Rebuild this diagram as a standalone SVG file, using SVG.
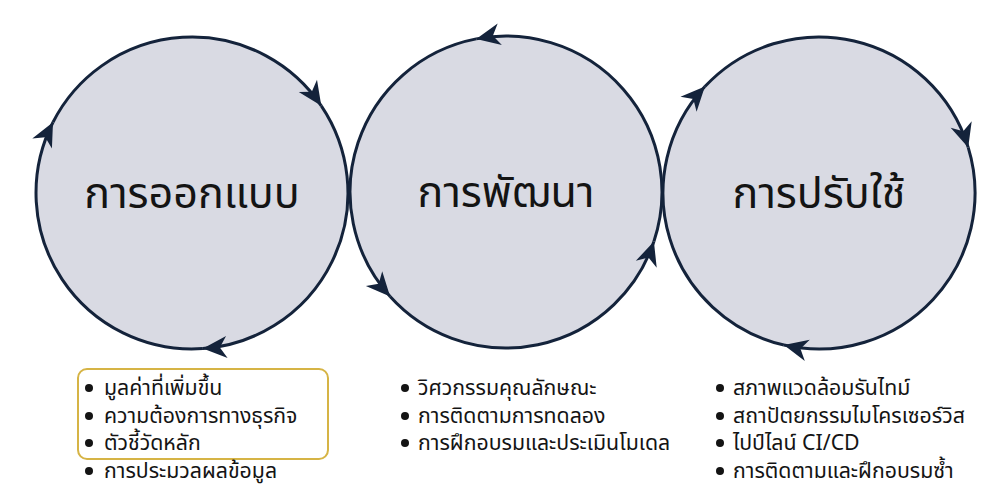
<svg xmlns="http://www.w3.org/2000/svg" width="1000" height="500" viewBox="0 0 1000 500">
  <defs>
    <marker id="arrow" markerUnits="userSpaceOnUse" viewBox="-26 -13 28 26" markerWidth="28" markerHeight="26" refX="1" refY="0" orient="auto">
      <path d="M1,0 L-23,-11 L-16,0 L-23,11 Z" fill="#14233b"/>
    </marker>
  </defs>
  <style>
    .disc { fill: #d9dae3; }
    .arc { fill: none; stroke: #14233b; stroke-width: 3; marker-end: url(#arrow); }
    .title { font-family: "Noto Sans", "Noto Sans Thai", "DejaVu Sans", sans-serif; font-size: 43px; fill: #141414; text-anchor: middle; }
    .item { font-family: "Noto Sans", "Noto Sans Thai", "DejaVu Sans", sans-serif; font-size: 21.3px; fill: #141414; }
    .dot { fill: #141414; }
    .hl { fill: #ffffff; stroke: #d6b445; stroke-width: 2; }
  </style>
  <rect width="1000" height="500" fill="#ffffff"/>

  <g id="design">
    <circle class="disc" cx="192" cy="193" r="156"/>
    <text class="title" x="192" y="208">การออกแบบ</text>
    <rect class="hl" x="78" y="369" width="250" height="90" rx="9"/>
    <circle class="dot" cx="89" cy="388" r="4"/>
    <text class="item" x="104" y="395">มูลค่าที่เพิ่มขึ้น</text>
    <circle class="dot" cx="89" cy="416" r="4"/>
    <text class="item" x="104" y="423">ความต้องการทางธุรกิจ</text>
    <circle class="dot" cx="89" cy="443" r="4"/>
    <text class="item" x="104" y="450">ตัวชี้วัดหลัก</text>
    <circle class="dot" cx="89" cy="471" r="4"/>
    <text class="item" x="104" y="478">การประมวลผลข้อมูล</text>
  </g>

  <g id="develop">
    <circle class="disc" cx="506" cy="192" r="156"/>
    <text class="title" x="506" y="207">การพัฒนา</text>
    <circle class="dot" cx="405" cy="388" r="4"/>
    <text class="item" x="418" y="395">วิศวกรรมคุณลักษณะ</text>
    <circle class="dot" cx="405" cy="416" r="4"/>
    <text class="item" x="418" y="423">การติดตามการทดลอง</text>
    <circle class="dot" cx="405" cy="443" r="4"/>
    <text class="item" x="418" y="450">การฝึกอบรมและประเมินโมเดล</text>
  </g>

  <g id="deploy">
    <circle class="disc" cx="819" cy="193" r="156"/>
    <text class="title" x="819" y="208">การปรับใช้</text>
    <circle class="dot" cx="720" cy="388" r="4"/>
    <text class="item" x="733" y="395">สภาพแวดล้อมรันไทม์</text>
    <circle class="dot" cx="720" cy="416" r="4"/>
    <text class="item" x="733" y="423">สถาปัตยกรรมไมโครเซอร์วิส</text>
    <circle class="dot" cx="720" cy="443" r="4"/>
    <text class="item" x="733" y="450">ไปป์ไลน์ CI/CD</text>
    <circle class="dot" cx="720" cy="471" r="4"/>
    <text class="item" x="733" y="478">การติดตามและฝึกอบรมซ้ำ</text>
  </g>

  <g id="connectors">
    <path class="arc" d="M53.0,122.2 A156,156 0 0 1 321.3,105.8"/>
    <path class="arc" d="M321.3,105.8 A156,156 0 0 1 202.9,348.6"/>
    <path class="arc" d="M202.9,348.6 A156,156 0 0 1 53.0,122.2"/>

    <path class="arc" d="M653.9,241.5 A156,156 0 0 0 476.2,38.9"/>
    <path class="arc" d="M476.2,38.9 A156,156 0 0 0 390.1,296.4"/>
    <path class="arc" d="M390.1,296.4 A156,156 0 0 0 653.9,241.5"/>

    <path class="arc" d="M704.9,86.6 A156,156 0 0 1 968.2,147.4"/>
    <path class="arc" d="M968.2,147.4 A156,156 0 0 1 783.9,345.0"/>
    <path class="arc" d="M783.9,345.0 A156,156 0 0 1 704.9,86.6"/>
  </g>
</svg>
